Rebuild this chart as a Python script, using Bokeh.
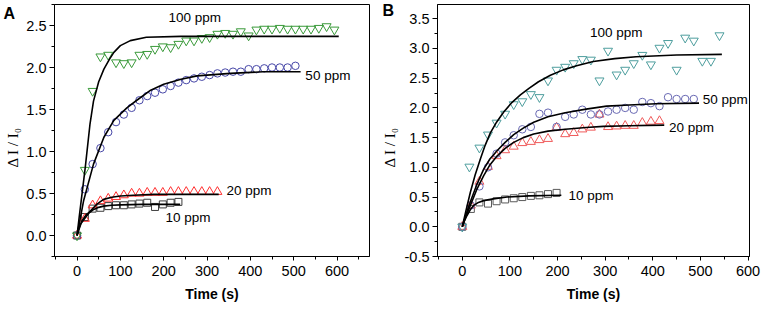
import math
from bokeh.plotting import figure
from bokeh.layouts import row
from bokeh.models import Range1d, SingleIntervalTicker, PrintfTickFormatter, Label, Title
from bokeh.embed import file_html
from bokeh.resources import INLINE

# ---------------- Panel A data ----------------
A_t100 = [0, 18, 36, 54, 72, 90, 108, 126, 144, 162, 180, 198, 216, 234, 252, 270, 288,
          306, 324, 342, 360, 378, 396, 414, 432, 450, 468, 486, 504, 522, 540, 558, 576, 594]
A_v100 = [0, 0.78, 1.72, 2.13, 2.15, 2.06, 2.05, 2.06, 2.15, 2.16, 2.22, 2.25, 2.24, 2.28, 2.32,
          2.32, 2.35, 2.36, 2.40, 2.41, 2.40, 2.43, 2.38, 2.45, 2.46, 2.46, 2.47, 2.46, 2.46, 2.46,
          2.46, 2.47, 2.49, 2.45]
A_t50 = [0, 18, 36, 54, 72, 90, 108, 126, 144, 162, 180, 198, 216, 234, 252, 270, 288, 306,
         324, 342, 360, 378, 396, 414, 432, 450, 468, 486, 504]
A_v50 = [0, 0.55, 0.85, 1.04, 1.23, 1.35, 1.44, 1.52, 1.61, 1.66, 1.70, 1.74, 1.78, 1.82, 1.85,
         1.87, 1.89, 1.91, 1.93, 1.94, 1.95, 1.95, 1.98, 1.98, 1.99, 2.00, 2.00, 2.00, 2.02]
A_t20 = [0, 18, 36, 54, 72, 90, 108, 126, 144, 162, 180, 198, 216, 234, 252, 270, 288, 306, 324]
A_v20 = [0, 0.20, 0.36, 0.41, 0.44, 0.46, 0.48, 0.50, 0.50, 0.51, 0.51, 0.51, 0.52, 0.52, 0.52,
         0.52, 0.52, 0.52, 0.52]
A_t10 = [0, 18, 36, 54, 72, 90, 108, 126, 144, 162, 180, 198, 216, 234]
A_v10 = [0, 0.22, 0.32, 0.33, 0.35, 0.36, 0.36, 0.37, 0.38, 0.39, 0.34, 0.37, 0.39, 0.40]

# fitted curves
A_ft100 = [0, 5, 10, 19, 30, 38, 50, 62, 75, 85, 100, 123, 160, 240, 400, 604]
A_fv100 = [0, 0.22, 0.43, 0.81, 1.33, 1.60, 1.83, 1.98, 2.10, 2.18, 2.26, 2.32, 2.36, 2.37, 2.37, 2.37]
A_ft50 = [0, 15, 38, 62, 85, 115, 138, 170, 200, 240, 277, 354, 430, 516]
A_fv50 = [0, 0.41, 0.85, 1.17, 1.37, 1.52, 1.61, 1.73, 1.80, 1.86, 1.90, 1.93, 1.95, 1.95]
A_ft20 = [0, 5, 11.5, 20, 30.7, 45, 61.5, 80, 100, 130, 177, 250, 327]
A_fv20 = [0, 0.08, 0.175, 0.24, 0.29, 0.37, 0.43, 0.455, 0.47, 0.48, 0.49, 0.49, 0.49]
A_ft10 = [0, 3, 7.7, 13, 19, 28, 38.5, 50, 61.5, 80, 100, 150, 238]
A_fv10 = [0, 0.06, 0.135, 0.17, 0.21, 0.27, 0.31, 0.335, 0.35, 0.36, 0.365, 0.37, 0.37]

A_labels = ["100 ppm", "50 ppm", "20 ppm", "10 ppm"]
A_label_t = [211, 527, 345, 204]
A_label_v = [2.60, 1.90, 0.54, 0.21]

# ---------------- Panel B data ----------------
B_t100 = [0, 15, 36, 54, 72, 90, 108, 126, 144, 162, 180, 198, 216, 234, 252, 270, 288, 306,
          324, 342, 360, 378, 396, 414, 432, 450, 468, 486, 504, 522, 540]
B_v100 = [0, 1.01, 1.33, 1.55, 1.75, 1.90, 2.06, 2.11, 2.23, 2.18, 2.46, 2.64, 2.69, 2.75, 2.82,
          2.81, 2.46, 2.96, 2.56, 2.64, 2.75, 2.89, 2.73, 3.01, 3.09, 2.64, 3.18, 3.13, 2.79, 2.79, 3.22]
B_t50 = [0, 18, 36, 54, 72, 90, 108, 126, 144, 162, 180, 198, 216, 234, 252, 270, 288, 306,
         324, 342, 360, 378, 396, 414, 432, 450, 468, 486]
B_v50 = [0, 0.36, 0.68, 1.00, 1.23, 1.42, 1.54, 1.64, 1.68, 1.90, 1.92, 1.68, 1.85, 1.89, 1.97,
         1.89, 1.89, 1.94, 1.97, 2.00, 1.97, 2.10, 2.08, 2.03, 2.18, 2.15, 2.15, 2.15]
B_t20 = [0, 18, 36, 54, 72, 90, 108, 126, 144, 162, 180, 198, 216, 234, 252, 270, 288, 306,
         324, 342, 360, 378, 396, 414]
B_v20 = [0, 0.36, 0.76, 1.01, 1.19, 1.29, 1.35, 1.41, 1.43, 1.46, 1.48, 1.67, 1.56, 1.58, 1.64,
         1.67, 1.89, 1.68, 1.69, 1.70, 1.70, 1.75, 1.77, 1.78]
B_t10 = [0, 18, 36, 54, 72, 90, 108, 126, 144, 162, 180, 198]
B_v10 = [0, 0.30, 0.41, 0.39, 0.43, 0.46, 0.48, 0.50, 0.52, 0.53, 0.55, 0.57]

B_ft100 = [0, 8, 17, 27, 38, 48, 59, 72, 87, 104, 122, 140, 160, 185, 212, 240, 275, 320, 365, 450, 545]
B_fv100 = [0, 0.28, 0.58, 0.87, 1.14, 1.37, 1.58, 1.76, 1.93, 2.09, 2.22, 2.33, 2.44, 2.55, 2.64,
           2.71, 2.78, 2.83, 2.86, 2.89, 2.90]
B_ft50 = [0, 8, 17, 30, 45, 58, 73, 90, 108, 128, 150, 180, 216, 260, 303, 350, 407, 497]
B_fv50 = [0, 0.21, 0.42, 0.70, 0.97, 1.14, 1.28, 1.42, 1.55, 1.66, 1.76, 1.85, 1.92, 1.98, 2.03,
          2.05, 2.07, 2.08]
B_ft20 = [0, 8, 17, 30, 45, 58, 73, 90, 108, 128, 150, 180, 216, 260, 296, 350, 424]
B_fv20 = [0, 0.18, 0.36, 0.62, 0.86, 1.04, 1.19, 1.32, 1.42, 1.50, 1.56, 1.61, 1.64, 1.67, 1.69,
          1.70, 1.71]
B_ft10 = [0, 4, 10, 17, 24, 34, 45, 65, 94, 140, 208]
B_fv10 = [0, 0.09, 0.19, 0.29, 0.36, 0.41, 0.44, 0.47, 0.50, 0.52, 0.53]

B_labels = ["100 ppm", "50 ppm", "20 ppm", "10 ppm"]
B_label_t = [268, 505, 434, 223]
B_label_v = [3.27, 2.14, 1.67, 0.53]

SANS = "Liberation Sans"
SERIF = "Liberation Serif"
NBSP = "\u00a0"
Y_LABEL = "Δ I / I\u2080" + NBSP * 9


def make_panel(width, bl, br, bt, bb, xr, yr, ylab_standoff):
    p = figure(width=width, height=310, x_range=Range1d(*xr), y_range=Range1d(*yr),
               output_backend="svg", toolbar_location=None,
               min_border_left=bl, min_border_right=br, min_border_top=bt, min_border_bottom=bb)
    p.grid.visible = False
    p.outline_line_color = "black"
    p.outline_line_width = 1
    p.background_fill_color = "white"
    p.border_fill_color = "white"
    p.xaxis.ticker = SingleIntervalTicker(interval=100, num_minor_ticks=2)
    p.yaxis.ticker = SingleIntervalTicker(interval=0.5, num_minor_ticks=2)
    p.yaxis.formatter = PrintfTickFormatter(format="%.1f")
    for ax in (p.xaxis, p.yaxis):
        ax.axis_line_color = "black"
        ax.axis_line_width = 1
        ax.major_tick_line_color = "black"
        ax.minor_tick_line_color = "black"
        ax.major_tick_in = 0
        ax.minor_tick_in = 0
        ax.major_label_text_font = SANS
        ax.major_label_text_font_size = "14.5px"
        ax.major_label_text_color = "black"
    p.xaxis.major_tick_out = 4
    p.xaxis.minor_tick_out = 3
    p.yaxis.major_tick_out = 5
    p.yaxis.minor_tick_out = 3
    p.xaxis.major_label_standoff = 5
    p.yaxis.major_label_standoff = 3
    p.xaxis.axis_label = "Time (s)"
    p.xaxis.axis_label_text_font = SANS
    p.xaxis.axis_label_text_font_size = "14px"
    p.xaxis.axis_label_text_font_style = "bold"
    p.xaxis.axis_label_text_color = "black"
    p.xaxis.axis_label_standoff = 7
    p.yaxis.axis_label = Y_LABEL
    p.yaxis.axis_label_text_font = SERIF
    p.yaxis.axis_label_text_font_size = "15px"
    p.yaxis.axis_label_text_font_style = "normal"
    p.yaxis.axis_label_text_color = "black"
    p.yaxis.axis_label_standoff = ylab_standoff
    return p


def add_letter(p, letter, offset, standoff):
    # panel letter as a title whose (negative) standoff keeps it from taking layout space
    p.add_layout(Title(text=letter, align="left", vertical_align="bottom", offset=offset,
                       standoff=standoff, text_font=SANS, text_font_size="16px",
                       text_font_style="bold", text_color="black"), "above")


def add_labels(p, labels, lt, lv):
    for txt, x, y in zip(labels, lt, lv):
        p.add_layout(Label(x=x, y=y, text=txt, text_font=SANS, text_font_size="13.5px",
                           text_color="black", text_baseline="middle", text_align="left"))


# ---------------- Panel A ----------------
pA = make_panel(378, 54, 9, 4, 54, (-52, 675), (-0.25, 2.75), 2)
fits_A = [(A_ft100, A_fv100), (A_ft50, A_fv50), (A_ft20, A_fv20), (A_ft10, A_fv10)]
pA.scatter(A_t10, A_v10, marker="square", size=7, fill_color=None, line_color="#3c3c3c", line_width=1)
pA.scatter(A_t20, A_v20, marker="triangle", size=9, fill_color=None, line_color="#ff3030", line_width=1)
pA.scatter(A_t50, A_v50, marker="circle", size=7.5, fill_color=None, line_color="#4848a8", line_width=1)
pA.scatter(A_t100, A_v100, marker="inverted_triangle", size=9, fill_color=None, line_color="#3a9a3a", line_width=1)
for ft, fv in fits_A:
    pA.line(ft, fv, line_color="black", line_width=1.6)
add_labels(pA, A_labels, A_label_t, A_label_v)
add_letter(pA, "A", -51, -35)

# ---------------- Panel B ----------------
pB = make_panel(387, 57, 16, 4, 52, (-52, 603), (-0.5, 3.74), 4)
fits_B = [(B_ft100, B_fv100), (B_ft50, B_fv50), (B_ft20, B_fv20), (B_ft10, B_fv10)]
pB.scatter(B_t10, B_v10, marker="square", size=7, fill_color=None, line_color="#5a5a5a", line_width=1)
pB.scatter(B_t20, B_v20, marker="triangle", size=9, fill_color=None, line_color="#f05a5a", line_width=1)
pB.scatter(B_t50, B_v50, marker="circle", size=7.5, fill_color=None, line_color="#6a6ab4", line_width=1)
pB.scatter(B_t100, B_v100, marker="inverted_triangle", size=9, fill_color=None, line_color="#4e9e9e", line_width=1)
for ft, fv in fits_B:
    pB.line(ft, fv, line_color="black", line_width=1.6)
add_labels(pB, B_labels, B_label_t, B_label_v)
add_letter(pB, "B", -55, -29)

layout = row(pA, pB)
open("out.html", "w").write(file_html(layout, INLINE))
